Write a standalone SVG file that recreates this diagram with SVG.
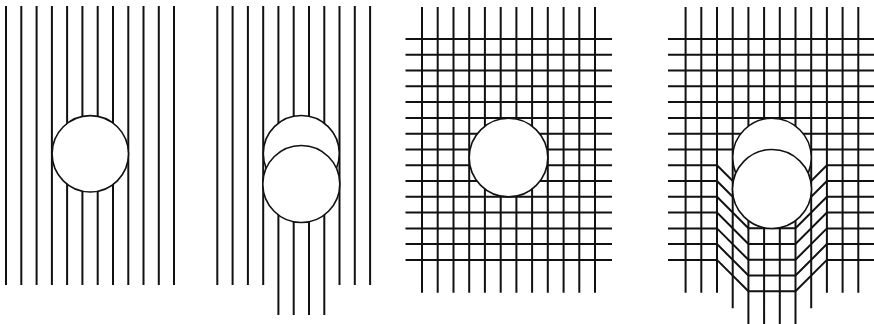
<svg xmlns="http://www.w3.org/2000/svg" width="874" height="324" viewBox="0 0 874 324">
<style>
.ln{fill:none;stroke:#111;stroke-width:2;stroke-linejoin:miter}
.disc{fill:#fff;stroke:#111;stroke-width:1.6}
</style>
<rect width="874" height="324" fill="#fff"/>
<g id="panel1">
<path class="ln" d="M6 6V285M21.3 6V285M36.6 6V285M51.9 6V285M67.1 6V285M82.4 6V285M97.7 6V285M113 6V285M128.3 6V285M143.5 6V285M158.8 6V285M174 6V285"/>
<circle class="disc" cx="90.3" cy="153.8" r="38.2"/>
</g>
<g id="panel2">
<path class="ln" d="M217.3 6V285M232.6 6V285M247.9 6V285M263.2 6V285M278.4 6V315M293.7 6V315M309 6V315M324.3 6V315M339.5 6V285M354.8 6V285M370.1 6V285"/>
<circle class="disc" cx="301.3" cy="153.5" r="38"/>
<circle class="disc" cx="301.3" cy="184" r="38.5"/>
</g>
<g id="panel3">
<path class="ln" d="M422 7V292.7M437.7 7V292.7M453.5 7V292.7M469.2 7V292.7M484.9 7V292.7M500.7 7V292.7M516.4 7V292.7M532.1 7V292.7M547.8 7V292.7M563.6 7V292.7M579.3 7V292.7M595 7V292.7"/>
<path class="ln" d="M405.5 39H612M405.5 54.8H612M405.5 70.6H612M405.5 86.3H612M405.5 102.1H612M405.5 117.9H612M405.5 133.7H612M405.5 149.5H612M405.5 165.2H612M405.5 181H612M405.5 196.8H612M405.5 212.6H612M405.5 228.4H612M405.5 244.1H612M405.5 259.9H612"/>
<circle class="disc" cx="508.5" cy="157.6" r="39.3"/>
</g>
<g id="panel4">
<path class="ln" d="M685.6 7V292.7M701.3 7V292.7M717 7V292.7M732.7 7V308.3M748.4 7V324M764.1 7V324M779.8 7V324M795.5 7V324M811.2 7V308.3M826.9 7V292.7M842.6 7V292.7M858.3 7V292.7"/>
<path class="ln" d="M668 39H874M668 54.8H874M668 70.6H874M668 86.3H874M668 102.1H874M668 117.9H874M668 133.7H874M668 149.5H874"/>
<path class="ln" d="M668 165.2H717L748.4 196.6H795.5L826.9 165.2H874M668 181H717L748.4 212.4H795.5L826.9 181H874M668 196.8H717L748.4 228.2H795.5L826.9 196.8H874M668 212.6H717L748.4 244H795.5L826.9 212.6H874M668 228.4H717L748.4 259.8H795.5L826.9 228.4H874M668 244.1H717L748.4 275.5H795.5L826.9 244.1H874M668 259.9H717L748.4 291.3H795.5L826.9 259.9H874"/>
<circle class="disc" cx="772" cy="157.5" r="39.3"/>
<circle class="disc" cx="772" cy="189" r="39.5"/>
</g>
</svg>
